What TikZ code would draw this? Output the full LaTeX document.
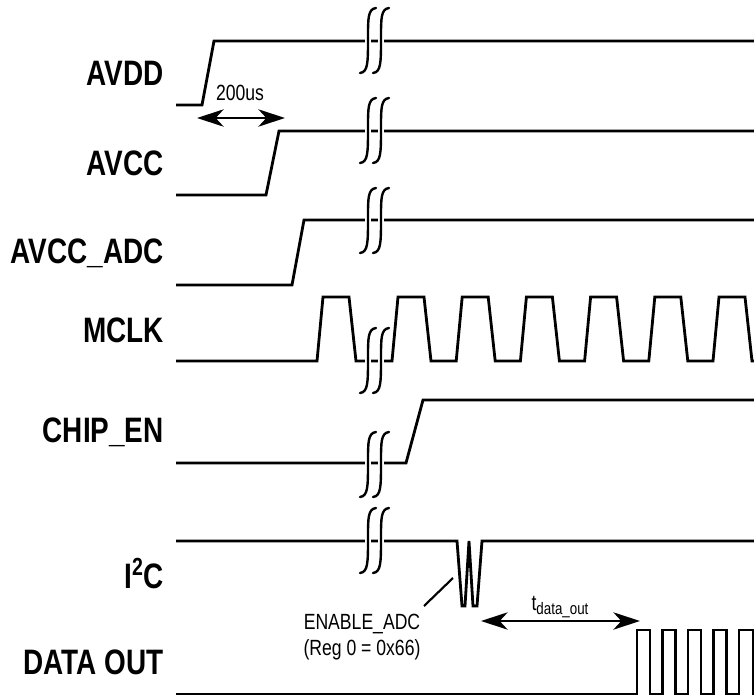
\documentclass[tikz,border=0pt]{standalone}
\usepackage{fontspec}
\setmainfont{Liberation Sans}
\newfontfamily\labelfont[FakeStretch=0.79]{Liberation Sans}
\newfontfamily\notefont[FakeStretch=0.8]{Liberation Sans}
\usetikzlibrary{arrows.meta}
\tikzset{
  sigline/.style={line width=2.1pt, line join=miter, black},
  breakline/.style={line width=1.8pt, line cap=round, black},
  siglabel/.style={anchor=base east, inner sep=0pt, font=\labelfont\fontsize{26.5pt}{30pt}\selectfont\bfseries},
  notelabel/.style={inner sep=0pt, align=center, font=\notefont\fontsize{16.5pt}{19.5pt}\selectfont},
  timearrow/.style={{Stealth[length=20pt,width=13pt,inset=6pt]}-{Stealth[length=20pt,width=13pt,inset=6pt]}, line width=1.5pt},
  leader/.style={line width=1.6pt},
  pics/sigbreak/.style={code={
    \foreach \dx in {0,13}{
      \draw[white,line width=5pt] (\dx+8,0) -- (\dx+8,65);
    }
    \foreach \dx in {0,13}{
      \draw[breakline] (\dx+16,0) .. controls (\dx+8,1) and (\dx+8,10) .. (\dx+8,30)
        .. controls (\dx+8,55) and (\dx+8,64) .. (\dx+0,65);
    }
  }},
}
\begin{document}
\begin{tikzpicture}[x=0.75pt,y=-0.75pt]
  \useasboundingbox (0,0) rectangle (754,696);
  % power rails
  \draw[sigline] (176,105)--(202,105)--(214,41)--(754,41);
  \draw[sigline] (176,195)--(266,195)--(279,131)--(754,131);
  \draw[sigline] (176,285)--(292,285)--(304,220)--(754,220);
  % clock
  \draw[sigline] (176,361)--(317,361)--(323,297)--(349,297)--(356,361)--(392,361)
    \foreach \k in {0,...,5}{
      --(392+64.2*\k,361)--(398+64.2*\k,297)--(424+64.2*\k,297)--(431+64.2*\k,361)
    }--(754,361);
  \draw[sigline] (176,463)--(406,463)--(423,400)--(754,400);
  % i2c burst
  \draw[sigline] (176,541)--(457,541)--(462,606)--(465,606)--(469,541)--(473,606)--(477,606)--(482,541)--(754,541);
  % data out
  \draw[sigline] (176,694)--(637,694)
    \foreach \k in {0,...,3}{
      --(637+25.5*\k,694)--(637+25.5*\k,630)--(650+25.5*\k,630)--(650+25.5*\k,694)
    }--(739,694)--(739,630)--(753,630)--(753,694)--(754,694);
  % breaks
  \pic at (360,8) {sigbreak};
  \pic at (360,98) {sigbreak};
  \pic at (360,188) {sigbreak};
  \pic at (360,328) {sigbreak};
  \pic at (360,432) {sigbreak};
  \pic at (360,508) {sigbreak};
  % labels
  \node[siglabel] (avdd) at (164,85) {AVDD};
  \node[siglabel] (avcc) at (164,175) {AVCC};
  \node[siglabel] (adc) at (164,263) {AVCC\_ADC};
  \node[siglabel] (mclk) at (164,342) {MCLK};
  \node[siglabel] (chipen) at (164,442) {CHIP\_EN};
  \node[siglabel] (itwoc) at (164,588) {I\textsuperscript{2}C};
  \node[siglabel] (dataout) at (164,674) {DATA OUT};
  % timing marks
  \node[notelabel] (delay) at (240,93) {200us};
  \coordinate (delayl) at (197,118);
  \coordinate (delayr) at (285,118);
  \draw[timearrow] (delayl)--(delayr);
  \node[notelabel,anchor=base] (tdata) at (560,610) {t\raisebox{-3pt}{\fontsize{12.5pt}{15pt}\selectfont data\_out}};
  \coordinate (tdatal) at (481,621);
  \coordinate (tdatar) at (640,621);
  \draw[timearrow] (tdatal)--(tdatar);
  \node[notelabel] (enable) at (362,637) {ENABLE\_ADC\\(Reg 0 = 0x66)};
  \coordinate (enablel) at (424,606);
  \coordinate (enabler) at (453,578);
  \draw[leader] (enablel)--(enabler);
\end{tikzpicture}
\end{document}
